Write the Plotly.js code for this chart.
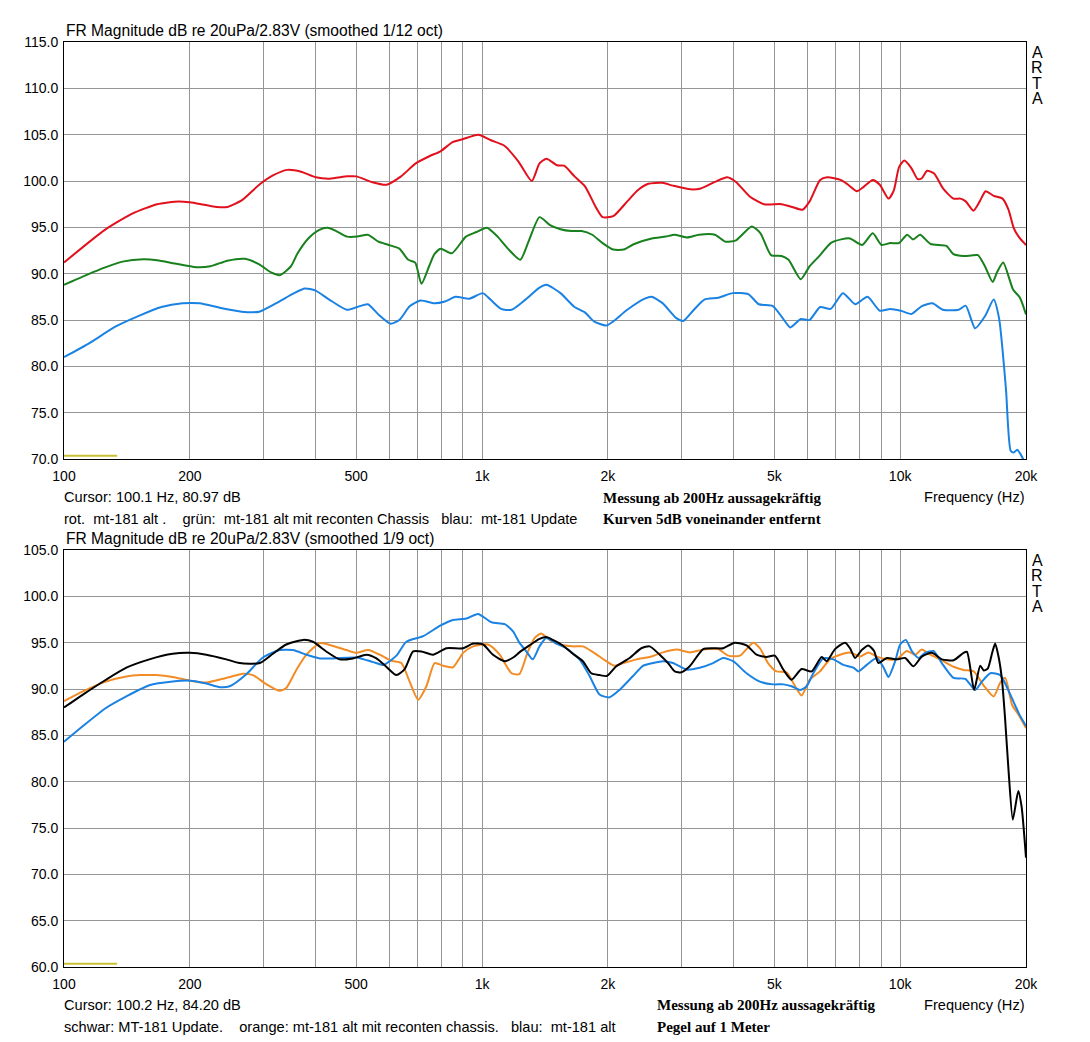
<!DOCTYPE html>
<html>
<head>
<meta charset="utf-8">
<script src="https://cdn.plot.ly/plotly-3.0.1.min.js"></script>
<style>html,body{margin:0;padding:0;background:#fff;}#chart{width:1090px;height:1042px;}</style>
</head>
<body>
<div id="chart"></div>
<script>
// ---------- top panel (smoothed 1/12 oct) ----------
const redFreq = [100,125,146,167,188,200,232,246,266,293,316,342,369,400,432,476,500,544,591,640,694,750,795,850,898,980,1050,1131,1222,1315,
  1372,1426,1511,1571,1664,1764,1870,1942,2059,2225,2357,2498,2698,2859,3150,3337,3606,3857,4048,4374,4724,5205,5514,5843,6073,6436,6690,7226,7510,7882,8194,8601,8940,9381,9659,9940,10230,10635,11016,11268,11600,12060,12660,13413,13940,14350,14970,15500,16015,16740,17575,18160,18700,19345,20000];
const redDb = [91.2,94.7,96.5,97.5,97.8,97.7,97.2,97.2,97.9,99.6,100.6,101.2,101.0,100.4,100.25,100.5,100.5,99.9,99.6,100.5,101.9,102.7,103.2,104.2,104.5,105.0,104.4,103.8,102.1,100.0,
  101.9,102.4,101.7,101.65,100.5,99.4,97.2,96.1,96.2,97.8,99.0,99.7,99.8,99.5,99.1,99.2,99.9,100.4,99.9,98.3,97.5,97.5,97.2,96.9,97.8,100.1,100.4,100.1,99.6,98.9,99.4,100.1,99.6,98.1,99.0,101.5,102.2,101.4,100.2,100.3,101.1,100.8,99.2,98.1,98.1,97.8,96.8,97.8,98.9,98.4,98.1,96.9,94.9,93.8,93.1];

const greenFreq = [100,113.8,125,138,155,167,184,207,224,246,271,293,314,329,349,362,384,407,427,448,475,503,533,565,598,634,666,692,716,747,769,796,847,915,970,1027,1089,1153,1234,1295,
  1372,1454,1540,1633,1730,1834,1942,2059,2182,2312,2546,2750,2886,3090,3304,3606,3820,4048,4416,4634,4910,5205,5408,5786,6073,6436,6820,7226,7586,8114,8601,9022,9470,9940,10392,10740,11160,11826,12900,13413,14200,14770,15350,15950,16650,17070,17640,18620,19345,20000];
const greenDb = [88.8,89.9,90.65,91.3,91.55,91.45,91.1,90.7,90.8,91.4,91.6,91.0,90.1,89.85,90.8,92.2,93.8,94.7,94.95,94.6,94.0,94.0,94.2,93.45,93.1,92.7,91.5,91.2,88.9,90.8,92.1,92.7,92.2,94.0,94.5,94.95,94.0,92.7,91.5,93.6,
  96.1,95.25,94.8,94.6,94.6,94.2,93.3,92.6,92.6,93.2,93.8,94.0,94.2,93.9,94.2,94.2,93.45,93.6,95.1,94.35,92.0,91.9,91.5,89.4,90.8,92.0,93.3,93.7,93.8,93.1,94.35,93.1,93.3,93.3,94.2,93.7,94.2,93.2,93.0,92.1,91.9,91.95,92.0,90.8,89.1,90.2,91.2,88.3,87.4,85.6];

const blueTopFreq = [100,114,133,152,171,192,211,237,266,293,323,355,377,399,431,475,503,533,565,604,634,672,712,769,815,864,933,1004,1047,1110,1176,1270,
  1372,1426,1540,1664,1764,1852,1981,2059,2225,2450,2546,2698,2916,3030,3210,3402,3676,3972,4332,4590,4960,5256,5462,5786,6073,6436,6820,7296,7808,8354,8940,9470,10034,10635,11268,11940,12660,13805,14350,15110,15950,16740,17240,17575,17920,18380,18700,19060,19420,19730];
const blueTopDb = [81.0,82.4,84.3,85.5,86.4,86.8,86.8,86.3,85.9,85.9,86.85,87.9,88.4,88.2,87.2,86.1,86.4,86.7,85.6,84.6,85.0,86.5,87.1,86.8,87.0,87.5,87.3,87.9,87.2,86.2,86.1,87.2,
  88.5,88.8,87.9,86.4,85.8,84.85,84.4,84.85,86.1,87.3,87.5,86.85,85.2,84.9,86.1,87.2,87.4,87.9,87.8,86.7,86.5,85.1,84.2,85.1,85.0,86.4,86.2,87.9,86.7,87.5,86.0,86.2,86.0,85.65,86.5,86.8,86.1,86.1,86.55,84.1,85.4,87.2,85.2,81.8,77.4,70.9,70.7,71.0,70.5,69.9];

// ---------- bottom panel (smoothed 1/9 oct) ----------
const blackFreq = [100,111,126,141,160,182,200,219,244.5,263,294,316,340,373,394,424,456,491,529,559,590,624,653,684,716,763,822,901,952,1006,1062,1133,1187,
  1228,1298,1372,1424,1477,1560,1648,1742,1824,1910,1989,2094,2254,2404,2517,2660,2785,2889,2998,3138,3379,3569,3772,4023,4291,4535,4790,5016,5254,5500,5811,6142,6490,6672,6986,7382,7588,7802,8092,8396,8662,8872,9290,9818,10278,10760,11268,11910,12580,13420,14176,14450,15030,15540,15850,16200,16620,16880,17190,17520,17830,18160,18600,19170,19520,20000];
const blackDb = [88.0,89.4,91.0,92.3,93.2,93.8,93.9,93.7,93.2,92.8,92.8,93.8,94.8,95.3,95.1,94.05,93.2,93.3,93.7,93.3,92.4,91.5,92.15,94.05,94.05,93.7,94.4,94.4,94.9,94.8,93.7,93.0,93.4,
  93.95,94.7,95.4,95.6,95.3,94.7,93.8,93.0,91.7,91.5,91.4,92.45,93.35,94.4,94.6,93.7,92.8,91.9,91.8,92.45,94.3,94.4,94.4,95.0,94.7,93.7,93.45,93.6,92.1,91.0,92.15,91.9,93.45,93.0,94.3,95.0,94.4,93.35,94.2,94.7,94.1,92.8,93.35,93.2,93.35,92.45,93.5,93.9,93.2,93.1,93.9,94.0,89.9,92.5,92.0,92.2,94.0,94.9,93.5,91.0,86.7,81.3,75.9,79.0,77.3,71.8];

const orangeFreq = [100,111,126,141,152,166,182,200,219,240,268,283,305,328,340,360,380,409,440,474,500,534,569,607,641,671,703,736,770,807,852,901,952,1034,1102,1176,
  1228,1286,1335,1384,1451,1532,1648,1742,1846,1982,2075,2179,2338,2517,2709,2920,3138,3379,3670,3880,4140,4450,4618,4830,5060,5350,5600,5810,6080,6430,6790,7180,7590,8020,8400,8790,9290,9820,10370,10860,11260,11800,12470,13420,14180,14990,15830,16730,17360,17840,18520,19210,20000];
const orangeDb = [88.7,89.75,90.8,91.35,91.5,91.5,91.3,90.9,90.7,91.1,91.65,91.5,90.5,89.8,90.1,92.1,93.7,94.95,94.65,94.2,93.9,94.2,93.7,93.05,92.8,90.8,88.85,90.3,92.8,92.5,92.35,93.9,94.6,94.8,93.7,91.7,
  91.6,94.0,95.5,96.0,95.3,94.8,94.6,94.6,93.95,93.0,92.5,92.8,93.2,93.45,93.95,94.25,93.95,94.25,94.3,93.6,93.6,95.0,94.4,92.8,91.9,91.8,90.35,89.3,91.0,91.9,93.2,93.7,93.95,93.5,93.95,93.5,93.2,93.2,94.1,93.7,94.25,93.7,93.2,92.4,92.05,91.9,90.4,89.2,90.7,91.2,88.3,87.2,85.8];

const blueBotFreq = [100,111,126,141,160,182,200.5,219,236,249,273,299,328,353,380,409,440,500,549,580,624,659,723,792,852,917,978,1053,1133,1187,
  1228,1274,1322,1372,1424,1504,1590,1710,1808,1910,2018,2132,2296,2426,2564,2709,2862,3081,3317,3569,3772,3986,4291,4618,4971,5254,5500,5757,5977,6198,6550,6921,7315,7730,7944,8318,8790,9120,9376,9728,10000,10320,10662,11060,11477,12020,12580,13420,14310,15120,15690,16430,17360,18340,19210,20000];
const blueBotDb = [84.3,86.0,87.95,89.2,90.4,90.8,90.9,90.6,90.2,90.3,91.6,93.4,94.2,94.2,93.7,93.3,93.3,93.4,92.9,92.6,93.6,95.1,95.7,96.8,97.45,97.6,98.1,97.2,97.0,96.2,
  95.0,94.1,93.2,94.6,95.5,94.9,94.4,93.2,91.4,89.4,89.1,89.9,91.4,92.5,92.8,93.0,92.8,92.1,92.3,92.8,93.35,93.0,91.7,90.8,90.5,90.5,90.3,89.9,90.3,91.7,93.3,93.2,92.6,92.3,91.9,92.6,93.35,92.35,91.3,93.0,94.8,95.3,94.1,93.35,93.9,94.1,92.8,91.2,91.1,89.9,90.8,91.7,91.5,89.4,87.4,86.0];

// axis tick labels
const gridFreqs = [100,200,300,400,500,600,700,800,900,1000,2000,3000,4000,5000,6000,7000,8000,9000,10000,20000];
const gridLabels = ['100','200','','','500','','','','','1k','2k','','','5k','','','','','10k','20k'];

const topTitle = 'FR Magnitude dB re 20uPa/2.83V (smoothed 1/12 oct)';
const botTitle = 'FR Magnitude dB re 20uPa/2.83V (smoothed 1/9 oct)';
const topCursor = 'Cursor: 100.1 Hz, 80.97 dB';
const botCursor = 'Cursor: 100.2 Hz, 84.20 dB';
const topLegend = 'rot.\u00a0 mt-181 alt .\u00a0\u00a0\u00a0 grün:\u00a0 mt-181 alt mit reconten Chassis\u00a0\u00a0 blau:\u00a0 mt-181 Update';
const botLegend = 'schwar: MT-181 Update.\u00a0\u00a0\u00a0 orange: mt-181 alt mit reconten chassis.\u00a0\u00a0 blau:\u00a0 mt-181 alt';
const topNote1 = 'Messung ab 200Hz aussagekräftig';
const topNote2 = 'Kurven 5dB voneinander entfernt';
const botNote1 = 'Messung ab 200Hz aussagekräftig';
const botNote2 = 'Pegel auf 1 Meter';

const W = 1090, H = 1042;
const px = v => v / W;
const py = v => 1 - v / H;

const lineW = 2;
const traces = [
  {x: redFreq, y: redDb, color: '#e2101c', ax: 'x', ay: 'y'},
  {x: greenFreq, y: greenDb, color: '#18801c', ax: 'x', ay: 'y'},
  {x: blueTopFreq, y: blueTopDb, color: '#1a82e2', ax: 'x', ay: 'y'},
  {x: orangeFreq, y: orangeDb, color: '#f28c24', ax: 'x2', ay: 'y2'},
  {x: blueBotFreq, y: blueBotDb, color: '#1a82e2', ax: 'x2', ay: 'y2'},
  {x: blackFreq, y: blackDb, color: '#000000', ax: 'x2', ay: 'y2'}
].map(t => ({
  type: 'scatter', mode: 'lines', x: t.x, y: t.y, xaxis: t.ax, yaxis: t.ay,
  line: {color: t.color, width: lineW, shape: 'spline', smoothing: 0.6},
  hoverinfo: 'skip', showlegend: false
}));

// yellow ARTA marker lines near the bottom of each plot
traces.push({type:'scatter', mode:'lines', x:[100,134], y:[70.35,70.35], xaxis:'x', yaxis:'y',
  line:{color:'#c8c034', width:2}, hoverinfo:'skip', showlegend:false});
traces.push({type:'scatter', mode:'lines', x:[100,134], y:[60.35,60.35], xaxis:'x2', yaxis:'y2',
  line:{color:'#c8c034', width:2}, hoverinfo:'skip', showlegend:false});

const font = {family: 'Liberation Sans, Arial, sans-serif', size: 14, color: '#000'};
const textFont = {family: 'Liberation Sans, Arial, sans-serif', size: 14.6, color: '#000'};
const titleFont = {family: 'Liberation Sans, Arial, sans-serif', size: 15.6, color: '#000'};
const xBase = {
  type: 'log', range: [2, Math.log10(20000)],
  tickmode: 'array', tickvals: gridFreqs, ticktext: gridLabels,
  showgrid: true, gridcolor: '#959595', gridwidth: 1,
  showline: true, linecolor: '#000', linewidth: 1, mirror: true,
  ticks: '', zeroline: false, tickfont: font, ticklabelstandoff: 4
};
const yBase = {
  dtick: 5, tickformat: '.1f',
  showgrid: true, gridcolor: '#959595', gridwidth: 1,
  showline: true, linecolor: '#000', linewidth: 1, mirror: true,
  ticks: '', zeroline: false, tickfont: font, ticklabelstandoff: 2
};

const layout = {
  width: W, height: H,
  margin: {l: 0, r: 0, t: 0, b: 0},
  paper_bgcolor: '#fff', plot_bgcolor: '#fff',
  font: font, showlegend: false,
  xaxis: Object.assign({}, xBase, {domain: [px(64), px(1026)], anchor: 'y'}),
  yaxis: Object.assign({}, yBase, {domain: [py(459), py(42)], range: [70, 115], anchor: 'x'}),
  xaxis2: Object.assign({}, xBase, {domain: [px(64), px(1026)], anchor: 'y2'}),
  yaxis2: Object.assign({}, yBase, {domain: [py(967), py(550)], range: [60, 105], anchor: 'x2'}),
  annotations: []
};

function txt(text, x, y, xanchor, f) {
  layout.annotations.push({text: text, xref: 'paper', yref: 'paper', x: px(x), y: py(y),
    xanchor: xanchor, yanchor: 'middle', showarrow: false, font: f || textFont});
}
const serif = {family: 'Liberation Serif, Times New Roman, serif', size: 15, color: '#000', weight: 'bold'};
const artaFont = {family: 'Liberation Sans, Arial, sans-serif', size: 16, color: '#000'};

txt(topTitle, 64, 30, 'left', titleFont);
txt(botTitle, 64, 538, 'left', titleFont);
txt(topCursor, 62, 497, 'left');
txt(botCursor, 62, 1005, 'left');
txt(topLegend, 62, 519, 'left');
txt(botLegend, 62, 1027, 'left');
txt(topNote1, 601, 498, 'left', serif);
txt(topNote2, 601, 519, 'left', serif);
txt(botNote1, 655, 1005, 'left', serif);
txt(botNote2, 655, 1027, 'left', serif);
txt('Frequency (Hz)', 1027, 497, 'right');
txt('Frequency (Hz)', 1027, 1005, 'right');

const arta = ['A', 'R', 'T', 'A'];
arta.forEach((ch, i) => {
  txt(ch, 1037, 52 + i * 15.6, 'center', artaFont);
  txt(ch, 1037, 560 + i * 15.6, 'center', artaFont);
});

Plotly.newPlot('chart', traces, layout, {staticPlot: true, displayModeBar: false});
</script>
</body>
</html>
